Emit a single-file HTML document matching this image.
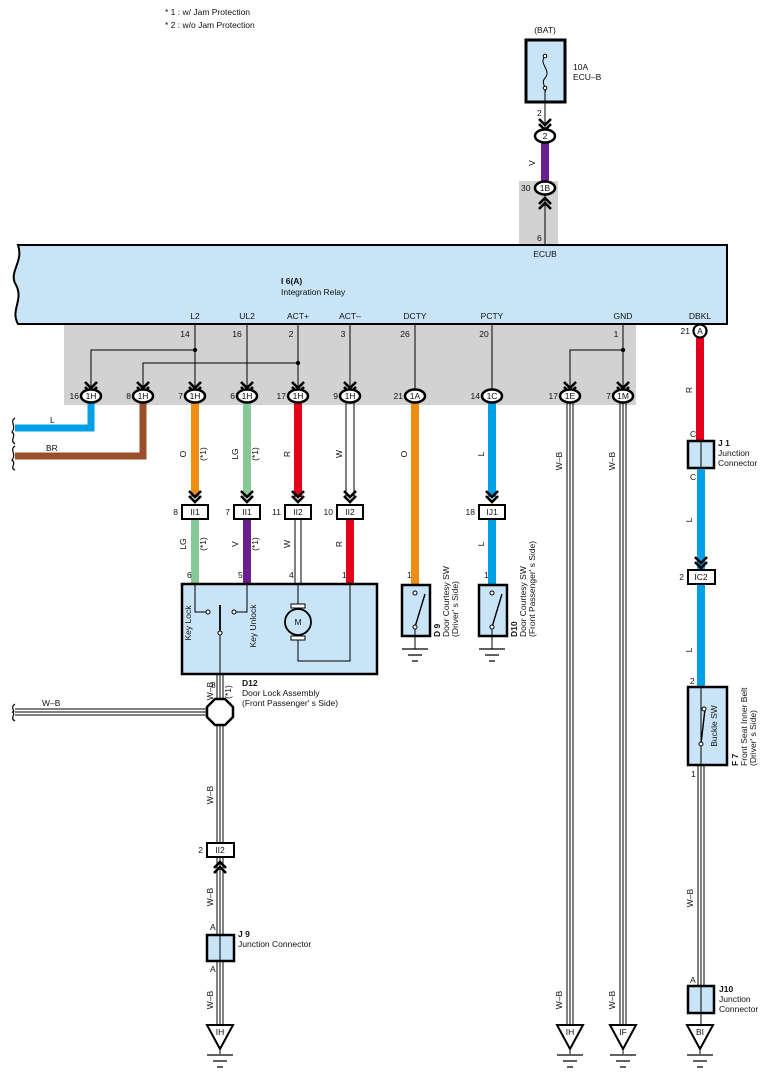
<!DOCTYPE html>
<html><head><meta charset="utf-8"><style>
html,body{margin:0;padding:0;background:#fff;}
svg{display:block;font-family:"Liberation Sans",Arial,sans-serif;}
text{font-size:8.5px;fill:#111;}
.b{font-weight:bold;}
</style></head><body>
<svg width="771" height="1079" viewBox="0 0 771 1079" xmlns="http://www.w3.org/2000/svg">
<defs>
<g id="chd"><path d="M-6,-9 L0,-3 L6,-9 M-6,-4 L0,2 L6,-4" fill="none" stroke="#000" stroke-width="2.6"/></g>
<g id="chu"><path d="M-6,9 L0,3 L6,9 M-6,4 L0,-2 L6,4" fill="none" stroke="#000" stroke-width="2.6"/></g>
<g id="gnd"><path d="M-13,0 H13 M-7,6 H7 M-3,12 H3" stroke="#000" stroke-width="1.2"/></g>
</defs>

<text x="165" y="15">* 1 : w/ Jam Protection</text>
<text x="165" y="28">* 2 : w/o Jam Protection</text>

<rect x="64" y="324" width="572" height="81" fill="#d2d2d3"/>
<rect x="519" y="181" width="39" height="64" fill="#d2d2d3"/>

<text x="545" y="33" text-anchor="middle">(BAT)</text>
<rect x="526" y="40" width="39" height="62" fill="#c8e4f6" stroke="#000" stroke-width="3"/>
<path d="M545,56 C538,64 552,70 545,78 C540,84 548,88 545,92" fill="none" stroke="#000" stroke-width="1"/>
<circle cx="545" cy="56" r="1.8" fill="#fff" stroke="#000"/>
<circle cx="545" cy="88" r="1.8" fill="#fff" stroke="#000"/>
<text x="573" y="70">10A</text>
<text x="573" y="80">ECU–B</text>
<line x1="545" y1="90" x2="545" y2="130" stroke="#000" stroke-width="1"/>
<text x="537" y="116">2</text>
<use href="#chd" x="545" y="128"/>
<rect x="541" y="142" width="8" height="40" fill="#6b1f8f"/>
<text x="535" y="163" transform="rotate(-90 535 163)" text-anchor="middle">V</text>
<ellipse cx="545" cy="136" rx="10" ry="6.5" fill="#fff" stroke="#000" stroke-width="2.5"/>
<text x="545" y="139" text-anchor="middle">2</text>
<line x1="545" y1="195" x2="545" y2="245" stroke="#000" stroke-width="1"/>
<use href="#chu" x="545" y="200"/>
<ellipse cx="545" cy="188" rx="10" ry="6.5" fill="#fff" stroke="#000" stroke-width="2.5"/>
<text x="545" y="191" text-anchor="middle">1B</text>
<text x="521" y="191">30</text>
<text x="537" y="241">6</text>

<path d="M18,245 H727 V324 H18 C10,310 24,300 16,285 C8,272 24,262 18,245 Z" fill="#c8e4f6" stroke="#000" stroke-width="2"/>
<text x="545" y="257" text-anchor="middle">ECUB</text>
<text x="281" y="284" class="b">I 6(A)</text>
<text x="281" y="295">Integration Relay</text>
<g text-anchor="middle">
<text x="195" y="319">L2</text><text x="247" y="319">UL2</text><text x="298" y="319">ACT+</text>
<text x="350" y="319">ACT–</text><text x="415" y="319">DCTY</text><text x="492" y="319">PCTY</text>
<text x="623" y="319">GND</text><text x="700" y="319">DBKL</text>
<text x="185" y="337">14</text><text x="237" y="337">16</text><text x="291" y="337">2</text>
<text x="343" y="337">3</text><text x="405" y="337">26</text><text x="484" y="337">20</text>
<text x="616" y="337">1</text>
</g>

<g stroke="#000" stroke-width="1" fill="none">
<path d="M195,324 V390 M247,324 V390 M298,324 V390 M350,324 V390 M415,324 V390 M492,324 V390 M623,324 V390"/>
<path d="M91,390 V350 H195 M143,390 V363 H298 M570,390 V350 H623"/>
</g>
<circle cx="195" cy="350" r="2.2"/><circle cx="298" cy="363" r="2.2"/><circle cx="623" cy="350" r="2.2"/>

<path d="M91,402 V428 H15" fill="none" stroke="#00a0e6" stroke-width="7"/>
<path d="M143,402 V456 H15" fill="none" stroke="#9a4f2a" stroke-width="7"/>
<text x="50" y="423">L</text><text x="46" y="451">BR</text>
<path d="M15,418 C9,422 17,426 12,432 C17,436 9,440 15,444 M15,446 C9,450 17,454 12,460 C17,464 9,468 15,470" fill="none" stroke="#000" stroke-width="1.2"/>

<rect x="191" y="402" width="8" height="95" fill="#ec8d14"/>
<rect x="243" y="402" width="8" height="95" fill="#86c996"/>
<rect x="294" y="402" width="8" height="95" fill="#e2001a"/>
<path d="M346,402 V497 M354,402 V497" stroke="#000" stroke-width="1"/>
<rect x="411" y="402" width="8" height="182" fill="#ec8d14"/>
<rect x="488" y="402" width="8" height="95" fill="#00a0e6"/>
<g stroke="#000" stroke-width="1">
<path d="M567,402 V1030 M570,402 V1030 M573,402 V1030 M620,402 V1030 M623,402 V1030 M626,402 V1030"/>
</g>
<g font-size="8.5">
<text x="186" y="454" transform="rotate(-90 186 454)" text-anchor="middle">O</text>
<text x="206" y="454" transform="rotate(-90 206 454)" text-anchor="middle">(*1)</text>
<text x="238" y="454" transform="rotate(-90 238 454)" text-anchor="middle">LG</text>
<text x="258" y="454" transform="rotate(-90 258 454)" text-anchor="middle">(*1)</text>
<text x="290" y="454" transform="rotate(-90 290 454)" text-anchor="middle">R</text>
<text x="342" y="454" transform="rotate(-90 342 454)" text-anchor="middle">W</text>
<text x="407" y="454" transform="rotate(-90 407 454)" text-anchor="middle">O</text>
<text x="484" y="454" transform="rotate(-90 484 454)" text-anchor="middle">L</text>
<text x="562" y="461" transform="rotate(-90 562 461)" text-anchor="middle">W–B</text>
<text x="615" y="461" transform="rotate(-90 615 461)" text-anchor="middle">W–B</text>
</g>

<g>
<use href="#chd" x="91" y="391"/><use href="#chd" x="143" y="391"/><use href="#chd" x="195" y="391"/>
<use href="#chd" x="247" y="391"/><use href="#chd" x="298" y="391"/><use href="#chd" x="350" y="391"/>
<use href="#chd" x="570" y="391"/><use href="#chd" x="623" y="391"/>
</g>
<g stroke="#000" stroke-width="2.5" fill="#fff">
<ellipse cx="91" cy="396" rx="10" ry="6.5"/><ellipse cx="143" cy="396" rx="10" ry="6.5"/>
<ellipse cx="195" cy="396" rx="10" ry="6.5"/><ellipse cx="247" cy="396" rx="10" ry="6.5"/>
<ellipse cx="298" cy="396" rx="10" ry="6.5"/><ellipse cx="350" cy="396" rx="10" ry="6.5"/>
<ellipse cx="415" cy="396" rx="10" ry="6.5"/><ellipse cx="492" cy="396" rx="10" ry="6.5"/>
<ellipse cx="570" cy="396" rx="10" ry="6.5"/><ellipse cx="623" cy="396" rx="10" ry="6.5"/>
</g>
<g text-anchor="middle">
<text x="91" y="399">1H</text><text x="143" y="399">1H</text><text x="195" y="399">1H</text>
<text x="247" y="399">1H</text><text x="298" y="399">1H</text><text x="350" y="399">1H</text>
<text x="415" y="399">1A</text><text x="492" y="399">1C</text><text x="570" y="399">1E</text>
<text x="623" y="399">1M</text>
</g>
<g text-anchor="end">
<text x="79" y="399">16</text><text x="131" y="399">8</text><text x="183" y="399">7</text>
<text x="235" y="399">6</text><text x="286" y="399">17</text><text x="338" y="399">9</text>
<text x="403" y="399">21</text><text x="480" y="399">14</text><text x="558" y="399">17</text>
<text x="611" y="399">7</text><text x="690" y="334">21</text>
</g>

<use href="#chd" x="195" y="500"/><use href="#chd" x="247" y="500"/>
<use href="#chd" x="298" y="500"/><use href="#chd" x="350" y="500"/><use href="#chd" x="492" y="500"/>
<g fill="#fff" stroke="#000" stroke-width="2">
<rect x="182" y="505" width="26" height="14"/><rect x="234" y="505" width="26" height="14"/>
<rect x="285" y="505" width="26" height="14"/><rect x="337" y="505" width="26" height="14"/>
<rect x="479" y="505" width="26" height="14"/>
</g>
<g text-anchor="middle">
<text x="195" y="515">II1</text><text x="247" y="515">II1</text><text x="298" y="515">II2</text>
<text x="350" y="515">II2</text><text x="492" y="515">IJ1</text>
</g>
<g text-anchor="end">
<text x="178" y="515">8</text><text x="230" y="515">7</text><text x="281" y="515">11</text>
<text x="333" y="515">10</text><text x="475" y="515">18</text>
</g>

<rect x="191" y="520" width="8" height="64" fill="#86c996"/>
<rect x="243" y="520" width="8" height="64" fill="#6b1f8f"/>
<path d="M295,520 V584 M301,520 V584" stroke="#000" stroke-width="1"/>
<rect x="346" y="520" width="8" height="64" fill="#e2001a"/>
<rect x="488" y="520" width="8" height="64" fill="#00a0e6"/>
<text x="186" y="544" transform="rotate(-90 186 544)" text-anchor="middle">LG</text>
<text x="206" y="544" transform="rotate(-90 206 544)" text-anchor="middle">(*1)</text>
<text x="238" y="544" transform="rotate(-90 238 544)" text-anchor="middle">V</text>
<text x="258" y="544" transform="rotate(-90 258 544)" text-anchor="middle">(*1)</text>
<text x="290" y="544" transform="rotate(-90 290 544)" text-anchor="middle">W</text>
<text x="342" y="544" transform="rotate(-90 342 544)" text-anchor="middle">R</text>
<text x="484" y="544" transform="rotate(-90 484 544)" text-anchor="middle">L</text>
<text x="187" y="578">6</text><text x="238" y="578">5</text><text x="289" y="578">4</text>
<text x="342" y="578">1</text><text x="407" y="578">1</text><text x="484" y="578">1</text>

<rect x="182" y="584" width="195" height="90" fill="#c8e4f6" stroke="#000" stroke-width="2.5"/>
<g stroke="#000" stroke-width="1" fill="none">
<path d="M195,585 V612 H206 M247,585 V612 H236 M220,633 V700 M220,605 V631"/>
<path d="M298,585 V604 M298,640 V661 H350 V585"/>
</g>
<line x1="220" y1="605" x2="220" y2="630" stroke="#000" stroke-width="1.8"/>
<circle cx="208" cy="612" r="2" fill="#fff" stroke="#000"/>
<circle cx="234" cy="612" r="2" fill="#fff" stroke="#000"/>
<circle cx="220" cy="633" r="2" fill="#fff" stroke="#000"/>
<rect x="291" y="604" width="14" height="4" fill="#fff" stroke="#000"/>
<rect x="291" y="636" width="14" height="4" fill="#fff" stroke="#000"/>
<circle cx="298" cy="622" r="13" fill="#c8e4f6" stroke="#000" stroke-width="1.8"/>
<text x="298" y="625" text-anchor="middle">M</text>
<text x="191" y="623" transform="rotate(-90 191 623)" text-anchor="middle">Key Lock</text>
<text x="256" y="626" transform="rotate(-90 256 626)" text-anchor="middle">Key Unlock</text>
<text x="211" y="688">8</text>
<text x="242" y="686" class="b">D12</text>
<text x="242" y="696">Door Lock Assembly</text>
<text x="242" y="706">(Front Passenger' s Side)</text>

<g>
<rect x="402" y="585" width="28" height="51" fill="#c8e4f6" stroke="#000" stroke-width="2.5"/>
<line x1="415" y1="627" x2="415" y2="649" stroke="#000"/>
<line x1="415" y1="627" x2="425" y2="594" stroke="#000" stroke-width="1.4"/>
<circle cx="415" cy="593" r="2" fill="#fff" stroke="#000"/><circle cx="415" cy="627" r="2" fill="#fff" stroke="#000"/>
<use href="#gnd" x="415" y="649"/>
<rect x="479" y="585" width="28" height="51" fill="#c8e4f6" stroke="#000" stroke-width="2.5"/>
<line x1="492" y1="627" x2="492" y2="649" stroke="#000"/>
<line x1="492" y1="627" x2="502" y2="594" stroke="#000" stroke-width="1.4"/>
<circle cx="492" cy="593" r="2" fill="#fff" stroke="#000"/><circle cx="492" cy="627" r="2" fill="#fff" stroke="#000"/>
<use href="#gnd" x="492" y="649"/>
</g>
<text x="440" y="637" transform="rotate(-90 440 637)" class="b">D 9</text>
<text x="449" y="637" transform="rotate(-90 449 637)">Door Courtesy SW</text>
<text x="458" y="637" transform="rotate(-90 458 637)">(Driver' s Side)</text>
<text x="517" y="637" transform="rotate(-90 517 637)" class="b">D10</text>
<text x="526" y="637" transform="rotate(-90 526 637)">Door Courtesy SW</text>
<text x="535" y="637" transform="rotate(-90 535 637)">(Front Passenger' s Side)</text>

<g stroke="#000" stroke-width="1">
<path d="M217,675 V1030 M220,675 V1030 M223,675 V1030"/>
<path d="M15,709 H210 M15,712 H210 M15,715 H210"/>
</g>
<path d="M15,704 C9,708 17,712 12,712 C17,714 9,718 15,721" fill="none" stroke="#000" stroke-width="1.2"/>
<text x="42" y="706">W–B</text>
<text x="213" y="691" transform="rotate(-90 213 691)" text-anchor="middle" font-size="8">W–B</text>
<text x="231" y="692" transform="rotate(-90 231 692)" text-anchor="middle" font-size="8">(*1)</text>
<polygon points="215,699 225,699 233,707 233,717 225,725 215,725 207,717 207,707" fill="#fff" stroke="#000" stroke-width="2.5"/>
<text x="213" y="795" transform="rotate(-90 213 795)" text-anchor="middle">W–B</text>
<rect x="207" y="843" width="27" height="14" fill="#fff" stroke="#000" stroke-width="2"/>
<text x="220" y="853" text-anchor="middle">II2</text>
<text x="203" y="853" text-anchor="end">2</text>
<use href="#chu" x="220" y="864"/>
<text x="213" y="897" transform="rotate(-90 213 897)" text-anchor="middle">W–B</text>
<text x="210" y="930">A</text>
<rect x="207" y="935" width="27" height="26" fill="#c8e4f6" stroke="#000" stroke-width="2.5"/>
<line x1="220" y1="935" x2="220" y2="961" stroke="#000"/>
<text x="210" y="972">A</text>
<text x="238" y="937" class="b">J 9</text>
<text x="238" y="947">Junction Connector</text>
<text x="213" y="1000" transform="rotate(-90 213 1000)" text-anchor="middle">W–B</text>

<g fill="#fff" stroke="#000" stroke-width="2">
<polygon points="207,1025 233,1025 220,1049"/>
<polygon points="557,1025 583,1025 570,1049"/>
<polygon points="610,1025 636,1025 623,1049"/>
<polygon points="687,1025 713,1025 700,1049"/>
</g>
<text x="220" y="1035" text-anchor="middle" font-size="7.5">IH</text>
<text x="570" y="1035" text-anchor="middle" font-size="7.5">IH</text>
<text x="623" y="1035" text-anchor="middle" font-size="7.5">IF</text>
<text x="700" y="1035" text-anchor="middle" font-size="7.5">BI</text>
<line x1="220" y1="1049" x2="220" y2="1054" stroke="#000"/><use href="#gnd" x="220" y="1055"/>
<line x1="570" y1="1049" x2="570" y2="1054" stroke="#000"/><use href="#gnd" x="570" y="1055"/>
<line x1="623" y1="1049" x2="623" y2="1054" stroke="#000"/><use href="#gnd" x="623" y="1055"/>
<line x1="700" y1="1049" x2="700" y2="1054" stroke="#000"/><use href="#gnd" x="700" y="1055"/>
<text x="562" y="1000" transform="rotate(-90 562 1000)" text-anchor="middle">W–B</text>
<text x="615" y="1000" transform="rotate(-90 615 1000)" text-anchor="middle">W–B</text>

<rect x="696" y="338" width="8" height="103" fill="#e2001a"/>
<circle cx="700" cy="331" r="6.5" fill="#fff" stroke="#000" stroke-width="2.2"/>
<text x="700" y="334" text-anchor="middle" font-size="8">A</text>
<text x="692" y="390" transform="rotate(-90 692 390)" text-anchor="middle">R</text>
<text x="690" y="437">C</text>
<rect x="688" y="441" width="26" height="27" fill="#c8e4f6" stroke="#000" stroke-width="2.5"/>
<line x1="701" y1="441" x2="701" y2="468" stroke="#000"/>
<text x="718" y="446" class="b">J 1</text>
<text x="718" y="456">Junction</text>
<text x="718" y="466">Connector</text>
<text x="690" y="480">C</text>
<rect x="697" y="469" width="8" height="100" fill="#00a0e6"/>
<text x="692" y="520" transform="rotate(-90 692 520)" text-anchor="middle">L</text>
<use href="#chd" x="701" y="566"/>
<rect x="688" y="570" width="27" height="14" fill="#fff" stroke="#000" stroke-width="2"/>
<text x="701" y="580" text-anchor="middle">IC2</text>
<text x="684" y="580" text-anchor="end">2</text>
<rect x="697" y="585" width="8" height="103" fill="#00a0e6"/>
<text x="692" y="650" transform="rotate(-90 692 650)" text-anchor="middle">L</text>
<text x="690" y="684">2</text>
<rect x="688" y="687" width="39" height="78" fill="#c8e4f6" stroke="#000" stroke-width="2.5"/>
<line x1="701" y1="687" x2="701" y2="765" stroke="#000"/>
<line x1="701" y1="744" x2="705" y2="709" stroke="#000" stroke-width="1.4"/>
<circle cx="704" cy="709" r="2" fill="#fff" stroke="#000"/><circle cx="701" cy="744" r="2" fill="#fff" stroke="#000"/>
<text x="717" y="726" transform="rotate(-90 717 726)" text-anchor="middle">Buckle SW</text>
<text x="738" y="766" transform="rotate(-90 738 766)" class="b">F 7</text>
<text x="747" y="766" transform="rotate(-90 747 766)">Front Seat Inner Belt</text>
<text x="756" y="766" transform="rotate(-90 756 766)">(Driver' s Side)</text>
<text x="691" y="777">1</text>
<path d="M698,766 V986 M701,766 V1025 M704,766 V986" stroke="#000" stroke-width="1"/>
<text x="693" y="898" transform="rotate(-90 693 898)" text-anchor="middle">W–B</text>
<text x="690" y="983">A</text>
<rect x="688" y="986" width="26" height="27" fill="#c8e4f6" stroke="#000" stroke-width="2.5"/>
<line x1="701" y1="986" x2="701" y2="1025" stroke="#000"/>
<text x="719" y="992" class="b">J10</text>
<text x="719" y="1002">Junction</text>
<text x="719" y="1012">Connector</text>
</svg>
</body></html>
